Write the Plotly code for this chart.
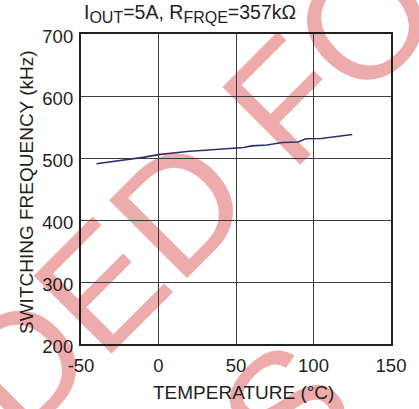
import plotly.graph_objects as go

# ---- data ----
temperature_c = [-40, -30, -20, -10, 0, 10, 20, 30, 40, 50, 55, 60, 70, 80, 90, 95, 105, 110, 115, 125]
frequency_khz = [490.8, 494, 497.5, 501, 505.5, 508.5, 511, 512.5, 514.5, 516.5, 517, 519.5, 521, 525, 525.7, 531, 531.5, 533, 534.8, 537.8]

x_ticks = [-50, 0, 50, 100, 150]
y_ticks = [200, 300, 400, 500, 600, 700]

title_text = 'I<sub><span style="font-size:16px">OUT</span></sub>=5A, R<sub><span style="font-size:16px">FRQE</span></sub>=357kΩ'
x_title = "TEMPERATURE (°C)"
y_title = "SWITCHING FREQUENCY (kHz)"
watermark_lines = ["NOT RECOMMENDED FOR", "NEW DESIGNS"]

W, H = 419, 409
L, R, T, B = 81, 28, 34, 65
PW, PH = W - L - R, H - T - B

FONT = "Arial, Liberation Sans, Helvetica, sans-serif"
TXT = "#231F20"

fig = go.Figure()
fig.add_trace(go.Scatter(x=temperature_c, y=frequency_khz, mode="lines",
                         line=dict(color="#2E3170", width=1.6), showlegend=False,
                         hoverinfo="skip"))

def px_to_paper(px, py):
    return (px - L) / PW, (H - B - py) / PH

# watermark (below grid), placed by its centre in pixels
wm_centers = [(-245.0, 610.3), (-89.4, 761.9)]
shapes = []
for txt, (cx, cy) in zip(watermark_lines, wm_centers):
    px, py = px_to_paper(cx, cy)
    shapes.append(dict(type="rect", xref="paper", yref="paper",
                       x0=px - 0.001, x1=px + 0.001, y0=py - 0.001, y1=py + 0.001,
                       line=dict(width=0), fillcolor="rgba(0,0,0,0)", layer="below",
                       label=dict(text=txt, textangle=-45, textposition="middle center",
                                  font=dict(family=FONT, size=160, color="#EDABAB"))))

tx, ty = px_to_paper(82, 13)
yx, yy = px_to_paper(26, 192)
xx, xy = px_to_paper(243, 393)
annotations = [
    dict(text=title_text, xref="paper", yref="paper", x=tx, y=ty, xanchor="left", yanchor="middle",
         showarrow=False, font=dict(family=FONT, size=19.5, color=TXT)),
    dict(text=y_title, xref="paper", yref="paper", x=yx, y=yy, xanchor="center", yanchor="middle",
         textangle=-90, showarrow=False, font=dict(family=FONT, size=19, color=TXT)),
    dict(text=x_title, xref="paper", yref="paper", x=xx, y=xy, xanchor="center", yanchor="middle",
         showarrow=False, font=dict(family=FONT, size=19, color=TXT)),
]

axis_common = dict(showgrid=True, gridcolor="#3A3A3A", gridwidth=1, zeroline=False,
                   showline=True, linecolor=TXT, linewidth=2.2, mirror=True, ticks="",
                   tickfont=dict(family=FONT, size=18.5, color=TXT))

fig.update_layout(
    width=W, height=H, margin=dict(l=L, r=R, t=T, b=B),
    paper_bgcolor="white", plot_bgcolor="rgba(0,0,0,0)",
    xaxis=dict(range=[-50, 150], tickvals=x_ticks, ticktext=[str(v) for v in x_ticks],
               ticklabelstandoff=4, **axis_common),
    yaxis=dict(range=[200, 700], tickvals=y_ticks, ticktext=[str(v) for v in y_ticks],
               ticklabelstandoff=2, ticklabelshift=3, **axis_common),
    shapes=shapes, annotations=annotations, showlegend=False,
)

fig.write_html("out.html", config={"displayModeBar": False},
               post_script="document.body.style.margin='0px';document.body.style.padding='0px';")
